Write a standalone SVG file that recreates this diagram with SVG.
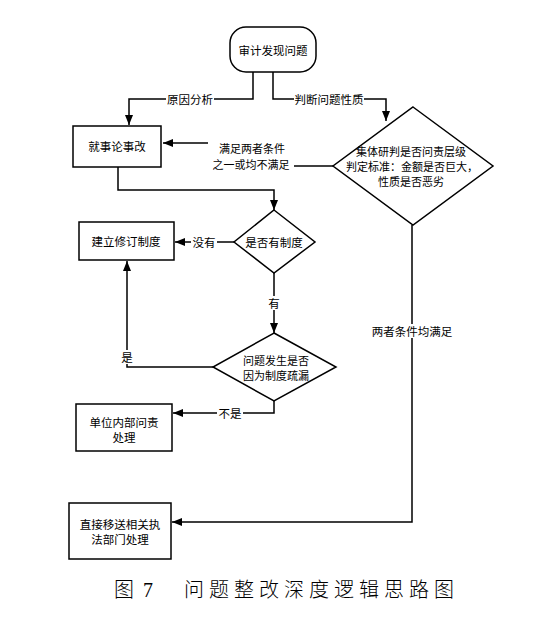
<svg xmlns="http://www.w3.org/2000/svg" width="549" height="633" viewBox="0 0 549 633">
<defs>
<marker id="arr" viewBox="0 0 10 10" refX="10" refY="5" markerWidth="10" markerHeight="10" markerUnits="userSpaceOnUse" orient="auto">
<path d="M0,1 L10,5 L0,9 Z" fill="#000"/>
</marker>
<style>
.s{fill:#fff;stroke:#000;stroke-width:1.5}
.e{fill:none;stroke:#000;stroke-width:1.5;marker-end:url(#arr)}
.l{fill:none;stroke:#000;stroke-width:1.5}
.t{font-family:"Noto Sans CJK SC","Liberation Sans",sans-serif;font-size:11.5px;fill:#000;text-anchor:middle;dominant-baseline:central}
.m{font-size:11px}
.c{font-family:"Liberation Serif","Noto Sans CJK SC",serif;font-size:20px;font-weight:300;fill:#000}
</style>
</defs>
<rect width="549" height="633" fill="#fff"/>
<g id="connectors">
<path class="e" d="M253,72 V99 H129 V125"/>
<path class="e" d="M273,72 V99 H386 V121"/>
<path class="l" d="M333,166 H294"/>
<path class="e" d="M208,143 H163"/>
<path class="e" d="M118,167 V190 H274 V210"/>
<path class="e" d="M234,242 H175"/>
<path class="e" d="M274,271 V333"/>
<path class="e" d="M213,367 H127 V261"/>
<path class="e" d="M274,401 V413 H173"/>
<path class="e" d="M412,225 V522 H172"/>
<g id="edge-labels">
<rect x="166" y="92" width="48" height="14" fill="#fff"/>
<text class="t" x="190" y="99">原因分析</text>
<rect x="294" y="92" width="70" height="14" fill="#fff"/>
<text class="t" x="329" y="99">判断问题性质</text>
<text class="t m" x="252" y="148">满足两者条件</text>
<text class="t m" x="251" y="164">之一或均不满足</text>
<rect x="191" y="235" width="26" height="14" fill="#fff"/>
<text class="t" x="204" y="242">没有</text>
<rect x="267" y="296" width="14" height="14" fill="#fff"/>
<text class="t" x="274" y="303">有</text>
<rect x="120" y="350" width="14" height="14" fill="#fff"/>
<text class="t" x="127" y="357">是</text>
<rect x="217" y="406" width="26" height="14" fill="#fff"/>
<text class="t" x="230" y="413">不是</text>
<rect x="370" y="324" width="84" height="14" fill="#fff"/>
<text class="t" x="412" y="331">两者条件均满足</text>
</g>
</g>
<g id="start">
<rect class="s" x="230" y="27" width="86" height="45" rx="16" ry="16"/>
<text class="t" x="273" y="50">审计发现问题</text>
</g>
<g id="jiushi">
<rect class="s" x="73" y="126" width="88" height="41"/>
<text class="t" x="117" y="146">就事论事改</text>
</g>
<g id="judge">
<path class="s" d="M413,107 L493,166 L413,225 L333,166 Z"/>
<text class="t m" x="411" y="151">集体研判是否问责层级</text>
<text class="t m" x="412" y="166">判定标准：金额是否巨大，</text>
<text class="t m" x="411" y="181">性质是否恶劣</text>
</g>
<g id="hasrule">
<path class="s" d="M274,210 L315,242 L274,273 L234,242 Z"/>
<text class="t" x="274" y="242">是否有制度</text>
</g>
<g id="build">
<rect class="s" x="79" y="222" width="95" height="38"/>
<text class="t" x="126" y="241">建立修订制度</text>
</g>
<g id="loophole">
<path class="s" d="M274,333 L336,367 L274,401 L213,367 Z"/>
<text class="t m" x="276" y="360">问题发生是否</text>
<text class="t m" x="276" y="375">因为制度疏漏</text>
</g>
<g id="internal">
<rect class="s" x="76" y="404" width="96" height="47"/>
<text class="t" x="124" y="422">单位内部问责</text>
<text class="t" x="124" y="437">处理</text>
</g>
<g id="transfer">
<rect class="s" x="69" y="503" width="102" height="56"/>
<text class="t" x="120" y="524">直接移送相关执</text>
<text class="t" x="120" y="539">法部门处理</text>
</g>
<g id="caption">
<text class="c" y="597"><tspan x="114">图</tspan><tspan x="143">7</tspan></text>
<text class="c" x="184" y="597" style="letter-spacing:5px">问题整改深度逻辑思路图</text>
</g>
</svg>
